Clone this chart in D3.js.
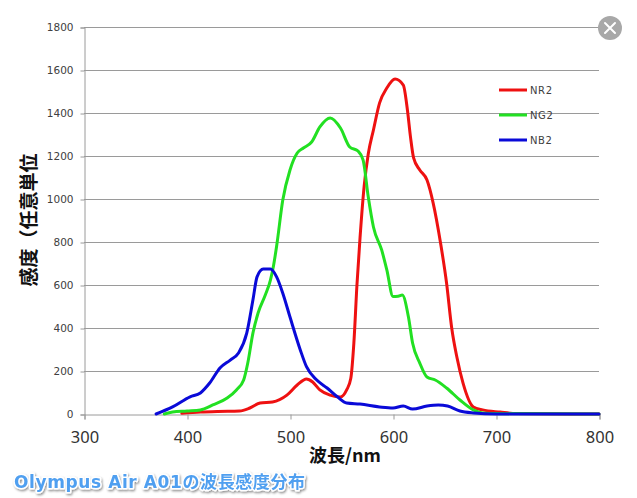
<!DOCTYPE html>
<html>
<head>
<meta charset="utf-8">
<script src="https://cdn.jsdelivr.net/npm/d3@7"></script>
<style>
  html, body { margin: 0; padding: 0; background: #fff; }
  svg { display: block; }
</style>
</head>
<body>
<svg id="chart" width="637" height="498"></svg>
<script>
// 波長 [nm] / 感度 — 読み取り値
const nr2 = [[395,3],[413,9],[430,12],[451,14],[461,28],[471,51],[483,56],[497,88],[507,135],[516,163],[522,149],[529,112],[539,88],[549,79],[555,112],[559,165],[562,330],[565,600],[568,820],[572,1060],[576,1210],[581,1321],[587,1447],[594,1516],[602,1558],[610,1530],[614,1414],[617,1288],[620,1191],[626,1135],[633,1088],[639,981],[646,800],[652,609],[657,400],[662,265],[668,144],[678,33],[687,19],[704,9],[720,2],[800,0]];
const ng2 = [[378,0],[386,9],[400,14],[413,19],[425,42],[439,74],[448,112],[455,158],[459,237],[464,376],[469,470],[476,553],[481,623],[484,690],[487,780],[493,995],[500,1135],[507,1214],[513,1237],[521,1265],[529,1335],[539,1377],[549,1330],[558,1242],[566,1223],[571,1181],[576,1009],[581,870],[589,763],[594,670],[600,547],[605,548],[609,553],[615,451],[619,330],[626,237],[633,172],[641,158],[652,121],[665,65],[678,19],[687,5],[700,2],[800,0]];
const nb2 = [[370,0],[386,33],[403,80],[413,98],[422,144],[432,214],[442,251],[450,284],[458,376],[464,530],[468,638],[474,674],[481,674],[487,638],[493,562],[500,451],[510,298],[516,220],[526,158],[536,121],[546,80],[555,51],[568,46],[587,33],[600,28],[610,37],[619,23],[633,37],[644,42],[653,37],[665,14],[678,5],[700,0],[800,0]];

const seriesNames = ["NR2", "NG2", "NB2"];
const seriesColors = ["#ee1111", "#22e022", "#0a0ad8"];
const seriesData = [nr2, ng2, nb2];

const xTicks = [300, 400, 500, 600, 700, 800];
const yTicks = [0, 200, 400, 600, 800, 1000, 1200, 1400, 1600, 1800];

const svg = d3.select("#chart");

const x = d3.scaleLinear().domain([300, 800]).range([84, 599]);
const y = d3.scaleLinear().domain([0, 1800]).range([414, 27]);

// グリッド
svg.append("g")
    .selectAll("line")
    .data(yTicks.filter(d => d > 0))
    .enter()
    .append("line")
    .attr("x1", x(300))
    .attr("x2", x(800))
    .attr("y1", d => y(d) + 0.5)
    .attr("y2", d => y(d) + 0.5)
    .attr("stroke", "#9a9a9a")
    .attr("stroke-width", 1);

// Y軸
const yAxis = svg.append("g")
    .attr("transform", `translate(${x(300) + 0.5},0.5)`)
    .call(d3.axisLeft(y).tickValues(yTicks).tickFormat(d3.format("d")).tickSize(4).tickPadding(7));
yAxis.select(".domain").attr("stroke", "#9a9a9a");
yAxis.selectAll(".tick line").attr("stroke", "#9a9a9a");
yAxis.selectAll(".tick text")
    .attr("fill", "#404040")
    .style("font-family", "'DejaVu Sans', Verdana, sans-serif")
    .style("font-size", "10.5px");

// X軸
const xAxis = svg.append("g")
    .attr("transform", `translate(0.5,${y(0) + 0.5})`)
    .call(d3.axisBottom(x).tickValues(xTicks).tickSize(5).tickPadding(12));
xAxis.select(".domain").attr("stroke", "#9a9a9a");
xAxis.selectAll(".tick line").attr("stroke", "#9a9a9a");
xAxis.selectAll(".tick text")
    .attr("fill", "#333")
    .style("font-family", "'Noto Sans', sans-serif")
    .style("font-size", "16.5px");

// 曲線
const line = d3.line()
    .x(d => x(d[0]))
    .y(d => y(d[1]))
    .curve(d3.curveMonotoneX);

svg.append("g")
    .selectAll("path")
    .data(seriesData)
    .enter()
    .append("path")
    .attr("d", line)
    .attr("fill", "none")
    .attr("stroke", (d, i) => seriesColors[i])
    .attr("stroke-width", 3)
    .attr("stroke-linejoin", "round")
    .attr("stroke-linecap", "round");

// 凡例
const legend = svg.append("g")
    .selectAll("g")
    .data(seriesNames)
    .enter()
    .append("g")
    .attr("transform", (d, i) => `translate(499,${90 + i * 25})`);
legend.append("line")
    .attr("x1", 0)
    .attr("x2", 28)
    .attr("stroke", (d, i) => seriesColors[i])
    .attr("stroke-width", 3);
legend.append("text")
    .attr("x", 31)
    .attr("y", 4)
    .attr("fill", "#404040")
    .style("font-family", "'DejaVu Sans', sans-serif")
    .style("font-size", "10px")
    .style("letter-spacing", "0.6px")
    .text(d => d);

// 軸タイトル
svg.append("text")
    .attr("transform", "translate(36,220) rotate(-90)")
    .attr("text-anchor", "middle")
    .attr("fill", "#111")
    .style("font-family", "'Noto Sans CJK JP', sans-serif")
    .style("font-size", "19px")
    .style("font-weight", "bold")
    .text("感度（任意単位");

svg.append("text")
    .attr("x", 345)
    .attr("y", 462)
    .attr("text-anchor", "middle")
    .attr("fill", "#111")
    .style("font-family", "'Noto Sans CJK JP', sans-serif")
    .style("font-size", "18px")
    .style("font-weight", "bold")
    .text("波長/nm");

// キャプション
const defs = svg.append("defs");
const shadow = defs.append("filter").attr("id", "shadow")
    .attr("x", "-5%").attr("y", "-30%").attr("width", "110%").attr("height", "160%");
shadow.append("feDropShadow")
    .attr("dx", 1).attr("dy", 1.5).attr("stdDeviation", 1.2)
    .attr("flood-color", "#000").attr("flood-opacity", 0.45);

svg.append("text")
    .attr("x", 14)
    .attr("y", 488)
    .attr("fill", "#4f9ff0")
    .attr("stroke", "#fff")
    .attr("stroke-width", 3)
    .attr("paint-order", "stroke")
    .attr("stroke-linejoin", "round")
    .attr("filter", "url(#shadow)")
    .attr("textLength", 291)
    .attr("lengthAdjust", "spacing")
    .style("font-family", "'DejaVu Sans', 'Noto Sans CJK JP', sans-serif")
    .style("font-size", "17px")
    .style("font-weight", "bold")
    .text("Olympus Air A01の波長感度分布");

// 閉じるボタン
const closeBtn = svg.append("g").attr("transform", "translate(610,28)");
closeBtn.append("circle").attr("r", 12).attr("fill", "#a8a8a8");
closeBtn.append("path")
    .attr("d", "M-5,-5L5,5M5,-5L-5,5")
    .attr("stroke", "#fff")
    .attr("stroke-width", 2)
    .attr("stroke-linecap", "round");
</script>
</body>
</html>
